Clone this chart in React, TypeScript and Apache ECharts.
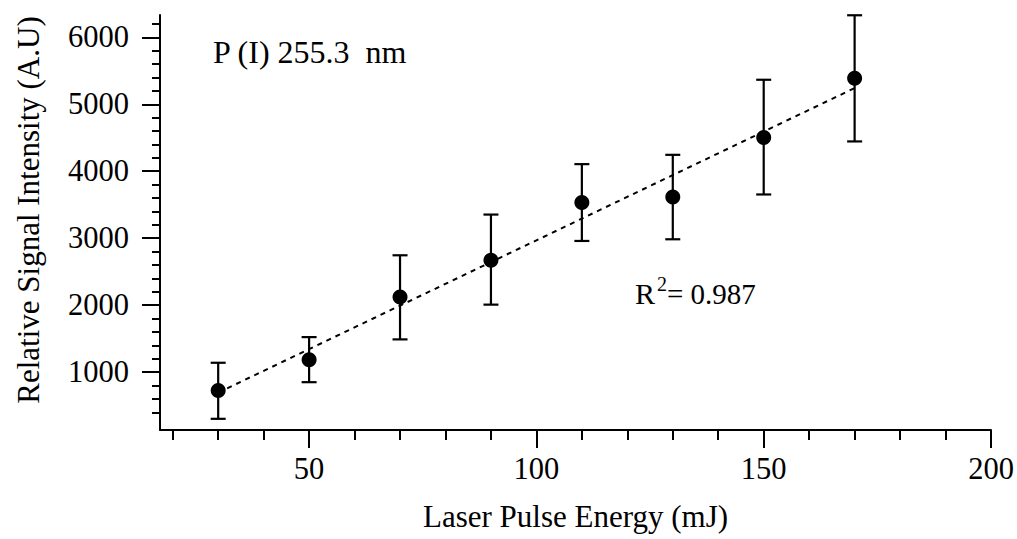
import React, { useEffect, useRef } from "react";
import * as echarts from "echarts";

const xValues = [30, 50, 70, 90, 110, 130, 150, 170];
const yValues = [726, 1185, 2121, 2670, 3533, 3617, 4505, 5387];
const yUpper = [1140, 1523, 2745, 3353, 4106, 4245, 5366, 6329];
const yLower = [303, 850, 1489, 2008, 2959, 2984, 3653, 4445];
const fitX = [30, 170];
const fitY = [694, 5242];
const xMajorTicks = [50, 100, 150, 200];
const xMinorTicks = [20, 30, 40, 60, 70, 80, 90, 110, 120, 130, 140, 160, 170, 180, 190];
const yMajorTicks = [1000, 2000, 3000, 4000, 5000, 6000];
const yMinorTicks = [400, 600, 800, 1200, 1400, 1600, 1800, 2200, 2400, 2600, 2800, 3200, 3400, 3600, 3800, 4200, 4400, 4600, 4800, 5200, 5400, 5600, 5800, 6200];
const xMin = 17.2;
const xMax = 200;
const yMin = 136;
const yMax = 6333;

const FONT = "Liberation Serif";

export default function App() {
  const ref = useRef<HTMLDivElement>(null);
  useEffect(() => {
    document.body.style.margin = "0";
    const chart = echarts.init(ref.current!, undefined, { renderer: "svg" });
    const axisLineStyle = { color: "#000", width: 2 };
    const fmt = (v: number) => String(v);
    const option: any = {
      animation: false,
      backgroundColor: "#fff",
      textStyle: { fontFamily: FONT },
      grid: { left: 160, right: 26, top: 15, bottom: 109, containLabel: false, outerBoundsMode: "none" },
      xAxis: [
        {
          type: "value",
          min: xMin,
          max: xMax,
          position: "bottom",
          name: "Laser Pulse Energy (mJ)",
          nameLocation: "middle",
          nameGap: 71,
          nameTextStyle: { fontFamily: FONT, fontSize: 31, color: "#000" },
          axisLine: { show: true, lineStyle: axisLineStyle },
          axisTick: { show: true, length: 18, lineStyle: axisLineStyle, customValues: xMajorTicks },
          axisLabel: { show: true, margin: 23, fontFamily: FONT, fontSize: 30.5, color: "#000", customValues: xMajorTicks, formatter: fmt },
          splitLine: { show: false },
        },
        {
          type: "value",
          min: xMin,
          max: xMax,
          position: "bottom",
          axisLine: { show: false },
          axisTick: { show: true, length: 10, lineStyle: axisLineStyle, customValues: xMinorTicks },
          axisLabel: { show: false },
          splitLine: { show: false },
        },
      ],
      yAxis: [
        {
          type: "value",
          min: yMin,
          max: yMax,
          position: "left",
          axisLine: { show: true, lineStyle: axisLineStyle },
          axisTick: { show: true, length: 18, lineStyle: axisLineStyle, customValues: yMajorTicks },
          axisLabel: { show: true, margin: 31, fontFamily: FONT, fontSize: 30.5, color: "#000", customValues: yMajorTicks, formatter: fmt },
          splitLine: { show: false },
        },
        {
          type: "value",
          min: yMin,
          max: yMax,
          position: "left",
          axisLine: { show: false },
          axisTick: { show: true, length: 8, lineStyle: axisLineStyle, customValues: yMinorTicks },
          axisLabel: { show: false },
          splitLine: { show: false },
        },
      ],
      series: [
        {
          type: "line",
          data: fitX.map((x, i) => [x, fitY[i]]),
          showSymbol: false,
          symbol: "none",
          lineStyle: { color: "#000", width: 2, type: [5, 5] },
          z: 2,
          silent: true,
        },
        {
          type: "custom",
          data: xValues.map((x, i) => [x, yLower[i], yUpper[i]]),
          encode: { x: 0, y: [1, 2] },
          renderItem: (params: any, api: any) => {
            const x = api.value(0);
            const lo = api.coord([x, api.value(1)]);
            const hi = api.coord([x, api.value(2)]);
            const w = 7.5;
            const st = { stroke: "#000", lineWidth: 2.2 };
            return {
              type: "group",
              children: [
                { type: "line", shape: { x1: lo[0], y1: lo[1], x2: hi[0], y2: hi[1] }, style: st },
                { type: "line", shape: { x1: lo[0] - w, y1: lo[1], x2: lo[0] + w, y2: lo[1] }, style: st },
                { type: "line", shape: { x1: hi[0] - w, y1: hi[1], x2: hi[0] + w, y2: hi[1] }, style: st },
              ],
            };
          },
          z: 3,
          silent: true,
        },
        {
          type: "scatter",
          data: xValues.map((x, i) => [x, yValues[i]]),
          symbol: "circle",
          symbolSize: 15,
          itemStyle: { color: "#000", opacity: 1 },
          z: 4,
          silent: true,
        },
      ],
      graphic: [
        {
          type: "text",
          x: 28,
          y: 210,
          rotation: Math.PI / 2,
          style: {
            text: "Relative Signal Intensity (A.U)",
            fontFamily: FONT,
            fontSize: 31,
            fill: "#000",
            align: "center",
            verticalAlign: "middle",
          },
        },
        {
          type: "text",
          left: 213,
          top: 36,
          style: { text: "P (I) 255.3  nm", fontFamily: FONT, fontSize: 32, fill: "#000" },
        },
        {
          type: "text",
          left: 635,
          top: 278,
          style: { text: "R", fontFamily: FONT, fontSize: 30, fill: "#000" },
        },
        {
          type: "text",
          left: 657,
          top: 274,
          style: { text: "2", fontFamily: FONT, fontSize: 20, fill: "#000" },
        },
        {
          type: "text",
          left: 667,
          top: 279,
          style: { text: "= 0.987", fontFamily: FONT, fontSize: 29, fill: "#000" },
        },
      ],
    };
    chart.setOption(option);
    return () => chart.dispose();
  }, []);
  return <div ref={ref} style={{ width: 1017, height: 539 }} />;
}
